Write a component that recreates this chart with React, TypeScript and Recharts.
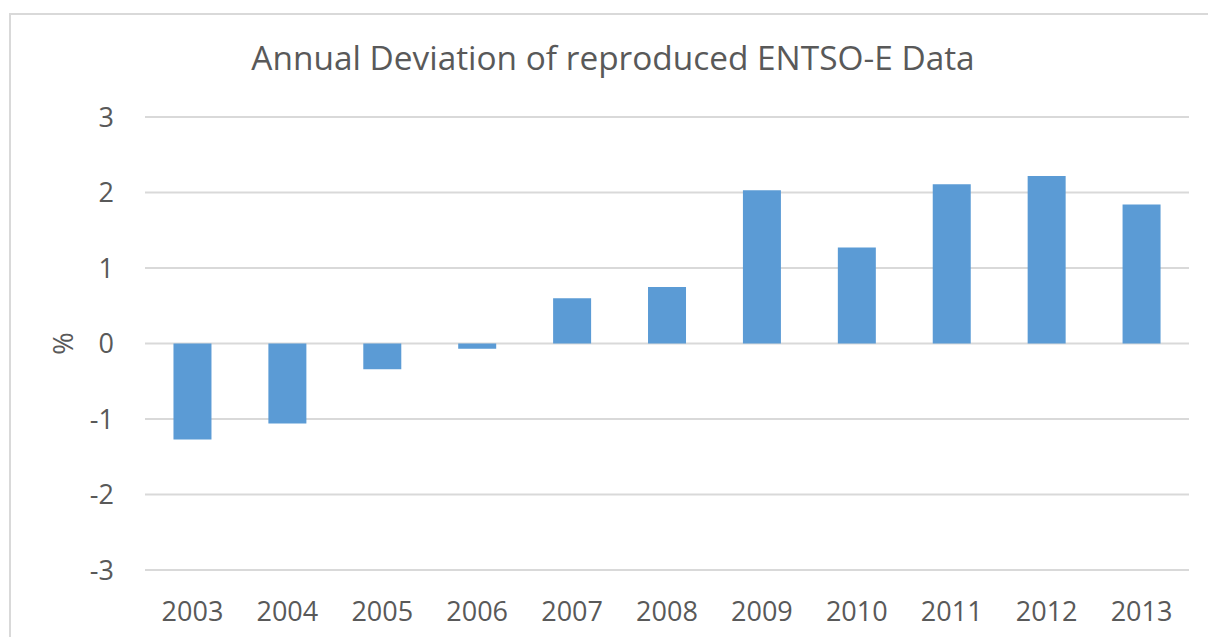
import React from "react";
import { BarChart, Bar, XAxis, YAxis, CartesianGrid } from "recharts";

const years = ["2003", "2004", "2005", "2006", "2007", "2008", "2009", "2010", "2011", "2012", "2013"];
const deviation = [-1.27, -1.06, -0.34, -0.07, 0.6, 0.75, 2.03, 1.27, 2.11, 2.22, 1.84];
const yTicks = [-3, -2, -1, 0, 1, 2, 3];

const data = years.map((year, i) => ({ year, deviation: deviation[i] }));

const textColor = "#595959";
const font = "'Open Sans', sans-serif";

const PercentLabel = (props: any) => {
  const vb = props.viewBox || {};
  const cx = vb.x + vb.width / 2 - 10;
  const cy = vb.y + vb.height / 2;
  return (
    <text
      x={cx}
      y={cy}
      transform={`rotate(-90 ${cx} ${cy})`}
      textAnchor="middle"
      dominantBaseline="central"
      fill={textColor}
      fontSize={27}
      fontFamily={font}
    >
      %
    </text>
  );
};

const App: React.FC = () => {
  return (
    <div
      style={{
        position: "absolute",
        left: 0,
        top: 0,
        width: 1208,
        height: 637,
        overflow: "hidden",
        background: "#fff",
        fontFamily: font,
      }}
    >
      {/* chart frame */}
      <div
        style={{
          position: "absolute",
          left: 9,
          top: 13,
          width: 1220,
          height: 650,
          border: "2px solid #D9D9D9",
          boxSizing: "border-box",
        }}
      />
      <div
        style={{
          position: "absolute",
          left: 0,
          top: 34,
          width: 1226,
          textAlign: "center",
          fontSize: 33.4,
          lineHeight: "normal",
          color: textColor,
        }}
      >
        Annual Deviation of reproduced ENTSO-E Data
      </div>
      <div style={{ position: "absolute", left: 0, top: 0 }}>
        <BarChart
          width={1208}
          height={637}
          data={data}
          margin={{ top: 117, right: 19, bottom: 7, left: 0 }}
          barCategoryGap="30%"
        >
          <CartesianGrid vertical={false} stroke="#D9D9D9" strokeWidth={2} />
          <XAxis
            dataKey="year"
            axisLine={false}
            tickLine={false}
            tickMargin={26}
            height={60}
            tick={{ fill: textColor, fontSize: 27, fontFamily: font }}
          />
          <YAxis
            width={145}
            domain={[-3, 3]}
            ticks={yTicks}
            axisLine={false}
            tickLine={false}
            tickMargin={25}
            tick={{ fill: textColor, fontSize: 27, fontFamily: font }}
            label={<PercentLabel />}
          />
          <Bar dataKey="deviation" fill="#5B9BD5" isAnimationActive={false} />
        </BarChart>
      </div>
    </div>
  );
};

export default App;
